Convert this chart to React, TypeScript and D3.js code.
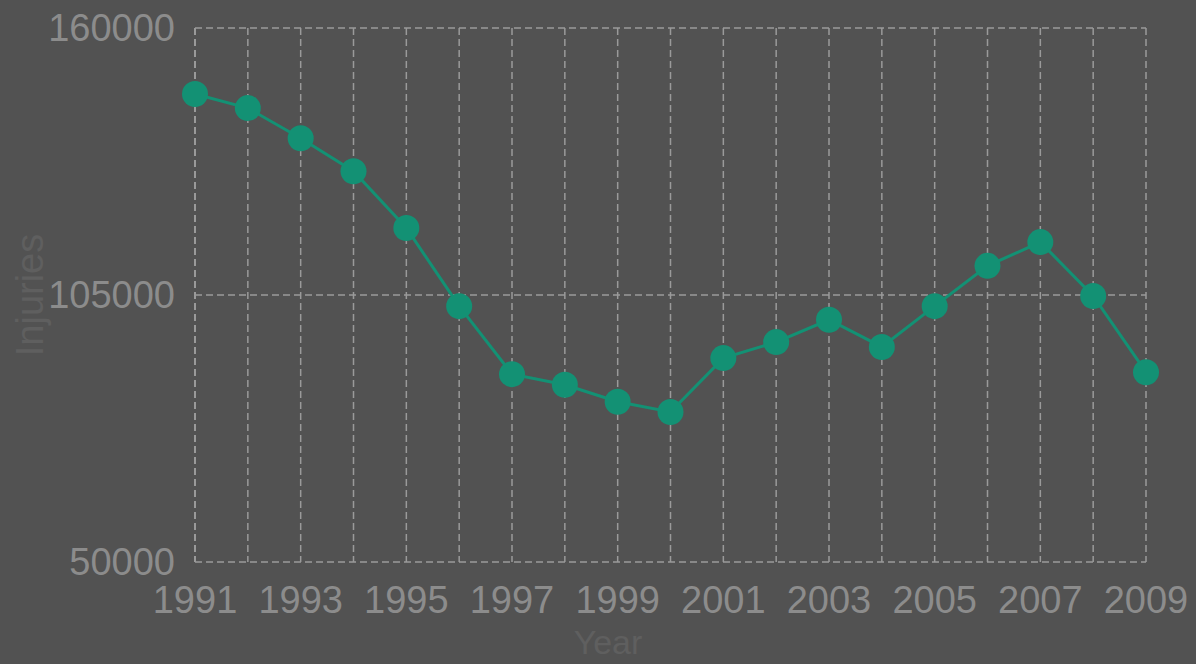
import React, { useEffect, useRef } from 'react';
import * as d3 from 'd3';

const years = [1991, 1992, 1993, 1994, 1995, 1996, 1997, 1998, 1999, 2000, 2001, 2002, 2003, 2004, 2005, 2006, 2007, 2008, 2009];
const injuries = [146400, 143500, 137300, 130500, 118800, 102700, 88700, 86500, 83000, 80900, 92000, 95300, 99900, 94300, 102700, 111000, 115900, 104800, 89100];
const yTicks = [50000, 105000, 160000];
const xTickYears = [1991, 1993, 1995, 1997, 1999, 2001, 2003, 2005, 2007, 2009];

const W = 1196;
const H = 664;

const App: React.FC = () => {
  const svgRef = useRef<SVGSVGElement>(null);

  useEffect(() => {
    if (!svgRef.current) return;
    const svg = d3.select(svgRef.current);
    svg.selectAll('*').remove();

    const margin = { top: 28, right: 50, bottom: 102, left: 195 };
    const width = W - margin.left - margin.right;
    const height = H - margin.top - margin.bottom;

    svg.append('rect').attr('width', W).attr('height', H).attr('fill', '#525252');

    const g = svg.append('g').attr('transform', `translate(${margin.left},${margin.top})`);

    const x = d3.scaleLinear().domain([1991, 2009]).range([0, width]);
    const y = d3.scaleLinear().domain([50000, 160000]).range([height, 0]);

    const gridColor = '#9a9a9a';
    const labelColor = '#8c8c8c';
    const font = 'Liberation Sans, Arial, sans-serif';

    // vertical grid
    g.selectAll('.vgrid')
      .data(years)
      .enter().append('line')
      .attr('x1', d => x(d)).attr('x2', d => x(d))
      .attr('y1', 0).attr('y2', height)
      .attr('stroke', gridColor)
      .attr('stroke-width', d => (d === 1991 ? 2 : 1.5))
      .attr('stroke-dasharray', '7,4');

    // horizontal grid
    g.selectAll('.hgrid')
      .data(yTicks)
      .enter().append('line')
      .attr('x1', 0).attr('x2', width)
      .attr('y1', d => y(d)).attr('y2', d => y(d))
      .attr('stroke', gridColor)
      .attr('stroke-width', 1.5)
      .attr('stroke-dasharray', '7,4');

    // y tick labels
    g.selectAll('.ylab')
      .data(yTicks)
      .enter().append('text')
      .attr('x', -20)
      .attr('y', d => y(d))
      .attr('dy', '0.35em')
      .attr('text-anchor', 'end')
      .attr('fill', labelColor)
      .style('font-family', font)
      .style('font-size', '38px')
      .text(d => String(d));

    // x tick labels
    g.selectAll('.xlab')
      .data(xTickYears)
      .enter().append('text')
      .attr('x', d => x(d))
      .attr('y', height + 51)
      .attr('text-anchor', 'middle')
      .attr('fill', labelColor)
      .style('font-family', font)
      .style('font-size', '38px')
      .text(d => String(d));

    // axis titles
    svg.append('text')
      .attr('x', 608)
      .attr('y', 654)
      .attr('text-anchor', 'middle')
      .attr('fill', '#5f5f5f')
      .style('font-family', font)
      .style('font-size', '34px')
      .text('Year');

    svg.append('text')
      .attr('transform', `translate(43,${margin.top + y(105000)}) rotate(-90)`)
      .attr('text-anchor', 'middle')
      .attr('fill', '#5f5f5f')
      .style('font-family', font)
      .style('font-size', '38px')
      .text('Injuries');

    // line + points
    const data = years.map((yr, i) => ({ yr, v: injuries[i] }));
    const line = d3.line<{ yr: number; v: number }>()
      .x(d => x(d.yr))
      .y(d => y(d.v));

    g.append('path')
      .datum(data)
      .attr('d', line)
      .attr('fill', 'none')
      .attr('stroke', '#139174')
      .attr('stroke-width', 3);

    g.selectAll('.pt')
      .data(data)
      .enter().append('circle')
      .attr('cx', d => x(d.yr))
      .attr('cy', d => y(d.v))
      .attr('r', 13)
      .attr('fill', '#139174');
  }, []);

  return (
    <svg ref={svgRef} width={W} height={H} style={{ position: 'absolute', left: 0, top: 0 }} />
  );
};

export default App;
